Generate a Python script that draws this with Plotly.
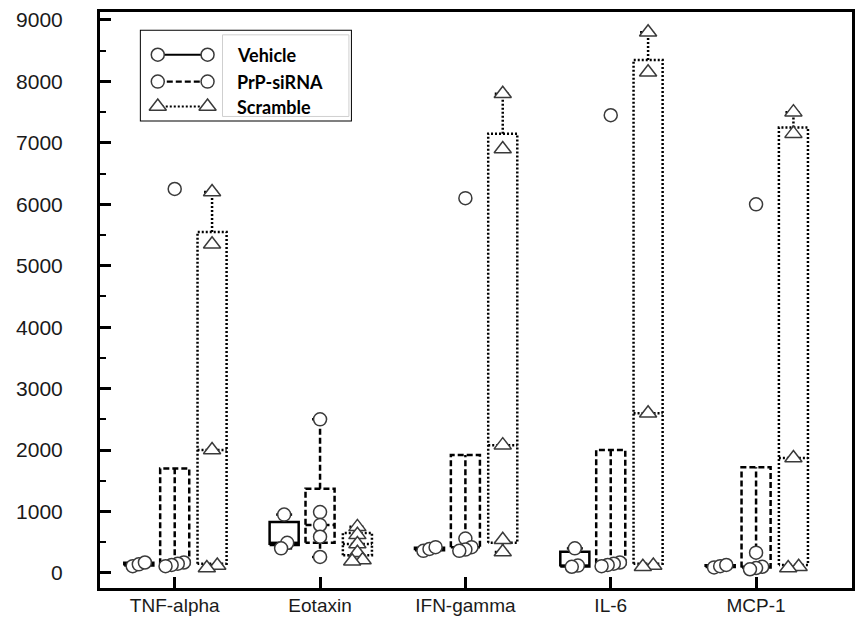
import plotly.graph_objects as go

# ---- data -------------------------------------------------------------
categories = ["TNF-alpha", "Eotaxin", "IFN-gamma", "IL-6", "MCP-1"]

# individual measurements per cytokine
vehicle_points = [
    [110, 140, 170],
    [950, 490, 400],
    [360, 390, 420],
    [400, 120, 100],
    [90, 110, 130],
]
prp_points = [
    [6250, 170, 150, 130, 110],
    [2500, 990, 780, 590, 260],
    [6100, 560, 420, 380, 360],
    [7450, 170, 150, 130, 110],
    [6000, 330, 100, 80, 60],
]
scramble_points = [
    [6200, 5350, 2000, 120, 80],
    [750, 620, 470, 330, 210, 190],
    [7800, 6900, 2080, 540, 340],
    [8800, 8150, 2600, 120, 100],
    [7500, 7150, 1870, 100, 80],
]

# box summaries: lower whisker, Q1, median, Q3, upper whisker
vehicle_low = [110, 400, 360, 100, 90]
vehicle_q1 = [120, 455, 370, 105, 95]
vehicle_med = [140, 490, 390, 120, 110]
vehicle_q3 = [165, 830, 410, 345, 125]
vehicle_high = [170, 950, 420, 400, 130]

prp_low = [110, 260, 360, 110, 60]
prp_q1 = [140, 490, 420, 140, 90]
prp_med = [150, 780, 420, 150, 100]
prp_q3 = [1700, 1370, 1920, 2000, 1720]
prp_high = [1700, 2500, 1920, 2000, 1720]

scr_low = [80, 190, 340, 100, 80]
scr_q1 = [150, 290, 490, 150, 130]
scr_med = [2000, 470, 2080, 2600, 1870]
scr_q3 = [5550, 650, 7150, 8350, 7250]
scr_high = [6200, 750, 7800, 8800, 7500]

series_names = ["Vehicle", "PrP-siRNA", "Scramble"]

# ---- drawing helpers ----------------------------------------------------
BOX_HALF = 0.1
CAP_HALF = 0.055
GROUP_SHIFT = [-0.247, 0.0, 0.257]


def spread(values, step, thresh=100):
    """Horizontal offsets so that near-equal values sit side by side."""
    order = sorted(range(len(values)), key=lambda i: values[i])
    offsets = [0.0] * len(values)
    clusters, cur = [], [order[0]]
    for i in order[1:]:
        if values[i] - values[cur[-1]] < thresh:
            cur.append(i)
        else:
            clusters.append(cur)
            cur = [i]
    clusters.append(cur)
    for c in clusters:
        k = len(c)
        for j, i in enumerate(c):
            offsets[i] = (j - (k - 1) / 2) * step
    return offsets


def box_paths(shift, low, q1, med, q3, high):
    xs, ys = [], []

    def seg(x, y):
        xs.extend(x + [None])
        ys.extend(y + [None])

    for i in range(len(categories)):
        xc = i + shift
        x0, x1 = xc - BOX_HALF, xc + BOX_HALF
        seg([x0, x0, x1, x1, x0], [q1[i], q3[i], q3[i], q1[i], q1[i]])
        seg([x0, x1], [med[i], med[i]])
        if high[i] > q3[i]:
            seg([xc, xc], [q3[i], high[i]])
            seg([xc - CAP_HALF, xc + CAP_HALF], [high[i], high[i]])
        else:
            # collapsed upper whisker: centre line through the box
            seg([xc, xc], [q1[i], q3[i]])
        if low[i] < q1[i]:
            seg([xc, xc], [q1[i], low[i]])
            seg([xc - CAP_HALF, xc + CAP_HALF], [low[i], low[i]])
    return xs, ys


def point_coords(shift, points, step):
    xs, ys = [], []
    for i, vals in enumerate(points):
        offs = spread(vals, step)
        for v, o in zip(vals, offs):
            xs.append(i + shift + o)
            ys.append(v)
    return xs, ys


fig = go.Figure()

series = [
    (vehicle_points, vehicle_low, vehicle_q1, vehicle_med, vehicle_q3, vehicle_high,
     "solid", "circle", 13, 0.042),
    (prp_points, prp_low, prp_q1, prp_med, prp_q3, prp_high,
     "6px,3px", "circle", 13, 0.042),
    (scramble_points, scr_low, scr_q1, scr_med, scr_q3, scr_high,
     "2px,2px", "triangle-up", 15, 0.072),
]

for k, (pts, lo, a, m, b, hi, dash, sym, msize, step) in enumerate(series):
    bx, by = box_paths(GROUP_SHIFT[k], lo, a, m, b, hi)
    fig.add_trace(go.Scatter(
        x=bx, y=by, mode="lines", showlegend=False, hoverinfo="skip",
        line=dict(color="black", width=2.5, dash=dash),
    ))
for k, (pts, lo, a, m, b, hi, dash, sym, msize, step) in enumerate(series):
    px, py = point_coords(GROUP_SHIFT[k], pts, step)
    fig.add_trace(go.Scatter(
        x=px, y=py, mode="markers", name=series_names[k], showlegend=False,
        marker=dict(symbol=sym, size=msize, color="white",
                    line=dict(color="#3a3a3a", width=1.5)),
    ))

# ---- key (drawn in its own small subplot) ------------------------------
key_rows = [25, 52, 77]
key_dash = ["solid", "6px,3px", "2px,2px"]
key_sym = ["circle", "circle", "triangle-up"]
key_size = [13, 13, 15]
for r, d, s, sz, name in zip(key_rows, key_dash, key_sym, key_size, series_names):
    fig.add_trace(go.Scatter(
        x=[18, 68], y=[r, r], mode="lines+markers", xaxis="x2", yaxis="y2",
        showlegend=False, hoverinfo="skip",
        line=dict(color="black", width=2 if d == "solid" else 2.2, dash=d),
        marker=dict(symbol=s, size=sz, color="white",
                    line=dict(color="#3a3a3a", width=1.5)),
    ))
    fig.add_annotation(
        x=96, y=r, xref="x2", yref="y2", text="<b>%s</b>" % name,
        showarrow=False, xanchor="left", yanchor="middle",
        font=dict(family="Lato, Open Sans, sans-serif", size=18, color="black"),
    )

fig.add_shape(type="rect", xref="x2", yref="y2", x0=83, x1=210, y0=5, y1=87,
              line=dict(color="#cfcfcf", width=1))
fig.add_shape(type="rect", xref="x2", yref="y2", x0=0, x1=213, y0=0, y1=92,
              line=dict(color="black", width=2))

y_tick_font = dict(family="Liberation Sans, Arial, sans-serif", size=21, color="#1a1a1a")
x_tick_font = dict(family="Liberation Sans, Arial, sans-serif", size=19, color="#1a1a1a")

fig.update_layout(
    width=858, height=626,
    margin=dict(l=100, r=3, t=12, b=38),
    paper_bgcolor="white", plot_bgcolor="white",
    showlegend=False,
    xaxis=dict(
        range=[-0.514, 4.66], tickmode="array", tickvals=list(range(len(categories))),
        ticktext=categories, ticks="inside", ticklen=11, tickwidth=2.5,
        tickcolor="black", showline=True, linecolor="black", linewidth=3,
        mirror=True, showgrid=False, zeroline=False, tickfont=x_tick_font,
        ticklabelstandoff=-2,
    ),
    yaxis=dict(
        range=[-245, 9130], tickmode="linear", tick0=0, dtick=1000,
        ticks="inside", ticklen=11, tickwidth=2.5, tickcolor="black",
        minor=dict(dtick=500, ticks="inside", ticklen=6, tickwidth=2, tickcolor="black"),
        showline=True, linecolor="black", linewidth=3, mirror=True,
        showgrid=False, zeroline=False, tickfont=y_tick_font, ticklabelstandoff=30,
    ),
    xaxis2=dict(domain=[0.053, 0.335], range=[0, 213], visible=False,
                anchor="y2", fixedrange=True),
    yaxis2=dict(domain=[0.81, 0.969], range=[92, 0], visible=False,
                anchor="x2", fixedrange=True),
)

fig.write_html("out.html")
